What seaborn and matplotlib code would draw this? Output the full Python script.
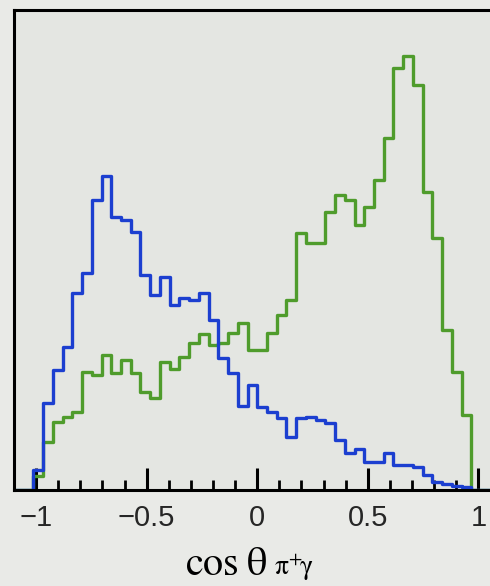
import numpy as np
import pandas as pd
import matplotlib
matplotlib.use("Agg")
import matplotlib.pyplot as plt
from matplotlib.ticker import FixedLocator
import seaborn as sns

# 50 bins of cos(theta) over [-1.1, 1.1]
bin_edges = np.linspace(-1.1, 1.1, 51)
bin_centers = 0.5 * (bin_edges[:-1] + bin_edges[1:])

# entries per bin (arbitrary units)
blue_counts = [0, 0,
               20, 87, 120, 143, 197, 217, 290, 314, 273, 270,
               258, 215, 195, 213, 185, 192, 190, 197, 170, 132,
               117, 84, 105, 83, 78, 72, 53, 72, 73, 70,
               67, 50, 37, 41, 28, 28, 37, 25, 25, 23,
               15, 8, 6, 4, 3,
               0, 0, 0]
green_counts = [0, 0,
                14, 48, 68, 73, 78, 118, 115, 135, 117, 130,
                117, 98, 92, 128, 121, 133, 147, 156, 145, 147,
                157, 167, 140, 140, 157, 175, 190, 257, 247, 247,
                278, 295, 290, 265, 283, 310, 352, 422, 434, 405,
                298, 252, 160, 118, 75,
                0, 0, 0]

major_ticks = [-1, -0.5, 0, 0.5, 1]
tick_labels = ["\u22121", "\u22120.5", "0", "0.5", "1"]

df = pd.DataFrame({
    "cos": np.concatenate([bin_centers, bin_centers]),
    "n": np.concatenate([green_counts, blue_counts]),
    "sample": ["green"] * len(bin_centers) + ["blue"] * len(bin_centers),
})

sns.set_theme(style="white")
plt.rcParams["font.family"] = ["Liberation Sans", "DejaVu Sans"]
plt.rcParams["mathtext.fontset"] = "stix"

W, H = 490, 586
fig = plt.figure(figsize=(W / 100, H / 100), dpi=100)
fig.patch.set_facecolor("#e9eae7")

left_px, right_px, top_px, bottom_px = 14, 500.5, 10, 490
ax = fig.add_axes([left_px / W, 1 - bottom_px / H,
                   (right_px - left_px) / W, (bottom_px - top_px) / H])
ax.set_facecolor("#e4e6e2")

colors = {"green": "#4f9c2c", "blue": "#1c3fd0"}
for name in ["green", "blue"]:
    sub = df[df["sample"] == name]
    sns.histplot(data=sub, x="cos", weights="n", bins=list(bin_edges),
                 element="step", fill=False, color=colors[name],
                 linewidth=2.4, ax=ax)

ax.set_xlim(-1.1, 1.1)
ax.set_ylim(0, 480)
ax.set_xlabel("")
ax.set_ylabel("")
ax.set_yticks([])

ax.xaxis.set_major_locator(FixedLocator(major_ticks))
ax.set_xticklabels(tick_labels)
ax.xaxis.set_minor_locator(FixedLocator(np.round(np.arange(-1.0, 1.01, 0.1), 2)))
ax.tick_params(axis="x", which="major", direction="in", length=16, width=2.2,
               color="black", labelsize=21, pad=10, bottom=True, top=False)
ax.tick_params(axis="x", which="minor", direction="in", length=7, width=2,
               color="black", bottom=True, top=False)

for side in ["left", "bottom", "top", "right"]:
    ax.spines[side].set_color("black")
    ax.spines[side].set_linewidth(2.2)

# axis title: cos theta with the pi+gamma subscript
fig.text(268 / W, 1 - 575 / H, r"$\mathrm{cos}\;\mathrm{\theta}$",
         ha="right", va="baseline", fontsize=29, color="black")
fig.text(274 / W, 1 - 575 / H, r"$\mathrm{\pi}^{+}\!\mathrm{\gamma}$",
         ha="left", va="baseline", fontsize=20, color="black")

fig.savefig("out.png", dpi=100, facecolor=fig.get_facecolor())
